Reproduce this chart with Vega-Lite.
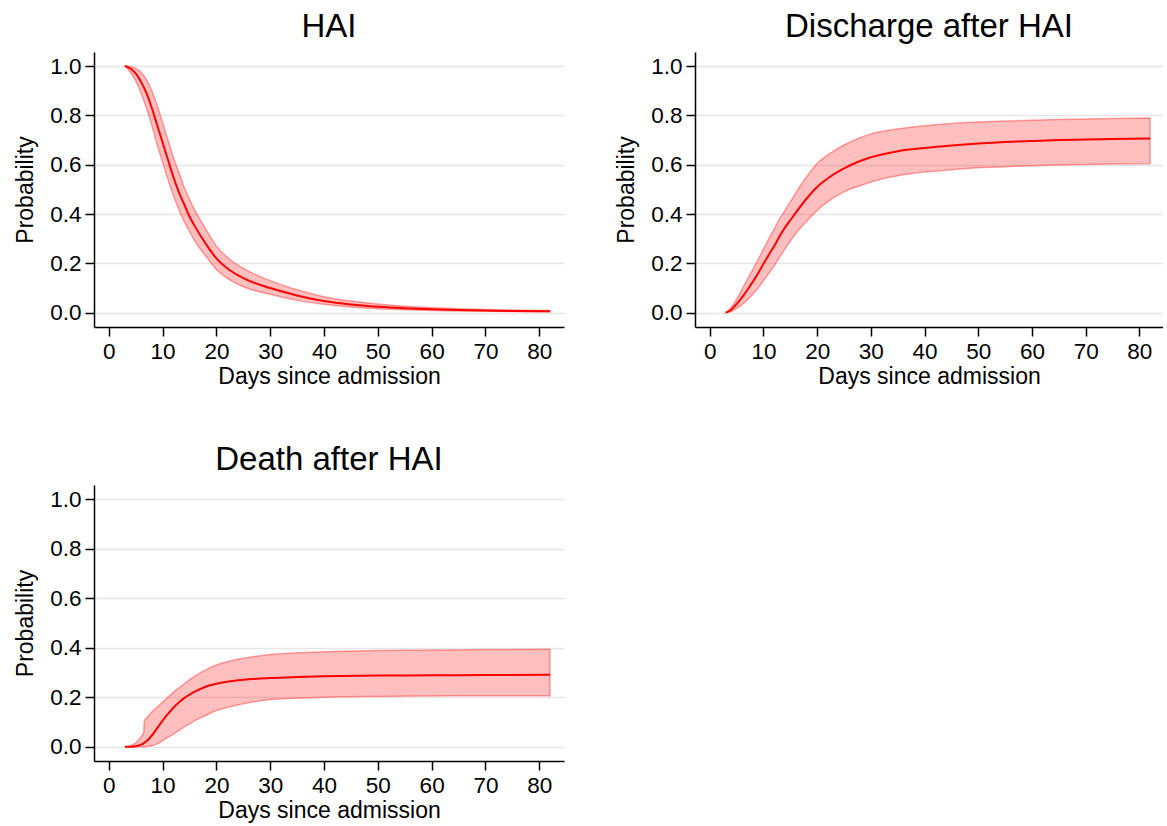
{
  "$schema": "https://vega.github.io/schema/vega-lite/v6.json",
  "background": "white",
  "padding": {"left": 14, "top": 11, "right": 0, "bottom": 0},
  "spacing": {"row": 55, "column": 51},
  "config": {
    "font": "Liberation Sans",
    "view": {"stroke": null},
    "title": {"fontSize": 33, "fontWeight": "normal", "color": "black", "anchor": "middle", "offset": 8},
    "axis": {
      "labelFontSize": 22.5,
      "titleFontSize": 23,
      "titleFontWeight": "normal",
      "labelColor": "black",
      "titleColor": "black",
      "domainColor": "black",
      "tickColor": "black",
      "domainWidth": 1.5,
      "tickWidth": 1.5,
      "tickSize": 9,
      "labelPadding": 4
    },
    "axisX": {"grid": false, "titlePadding": 3},
    "axisY": {"gridColor": "#e6e6e6", "gridWidth": 1.5, "titlePadding": 12}
  },
  "datasets": {
    "hai": [
      {"day": 3, "est": 1.0, "lo": 1.0, "hi": 1.0},
      {"day": 4, "est": 0.99, "lo": 0.975, "hi": 0.998},
      {"day": 5, "est": 0.97, "lo": 0.94, "hi": 0.99},
      {"day": 6, "est": 0.935, "lo": 0.89, "hi": 0.975},
      {"day": 7, "est": 0.89, "lo": 0.83, "hi": 0.945},
      {"day": 8, "est": 0.83, "lo": 0.76, "hi": 0.9},
      {"day": 9, "est": 0.76, "lo": 0.68, "hi": 0.84},
      {"day": 10, "est": 0.69, "lo": 0.61, "hi": 0.77},
      {"day": 11, "est": 0.62, "lo": 0.54, "hi": 0.7},
      {"day": 12, "est": 0.55, "lo": 0.475, "hi": 0.63},
      {"day": 13, "est": 0.49, "lo": 0.42, "hi": 0.57},
      {"day": 14, "est": 0.44, "lo": 0.37, "hi": 0.51},
      {"day": 15, "est": 0.39, "lo": 0.33, "hi": 0.46},
      {"day": 16, "est": 0.35, "lo": 0.29, "hi": 0.415},
      {"day": 18, "est": 0.28, "lo": 0.23, "hi": 0.34},
      {"day": 20, "est": 0.22, "lo": 0.175, "hi": 0.27},
      {"day": 22, "est": 0.18, "lo": 0.14, "hi": 0.225},
      {"day": 25, "est": 0.14, "lo": 0.105, "hi": 0.18},
      {"day": 30, "est": 0.1, "lo": 0.075, "hi": 0.13},
      {"day": 35, "est": 0.07, "lo": 0.05, "hi": 0.093},
      {"day": 40, "est": 0.047, "lo": 0.034, "hi": 0.065},
      {"day": 45, "est": 0.033, "lo": 0.023, "hi": 0.047},
      {"day": 50, "est": 0.024, "lo": 0.016, "hi": 0.035},
      {"day": 55, "est": 0.018, "lo": 0.012, "hi": 0.026},
      {"day": 60, "est": 0.014, "lo": 0.009, "hi": 0.02},
      {"day": 65, "est": 0.011, "lo": 0.007, "hi": 0.016},
      {"day": 70, "est": 0.009, "lo": 0.006, "hi": 0.013},
      {"day": 75, "est": 0.007, "lo": 0.005, "hi": 0.011},
      {"day": 82, "est": 0.006, "lo": 0.004, "hi": 0.009}
    ],
    "discharge": [
      {"day": 3, "est": 0.0, "lo": 0.0, "hi": 0.0},
      {"day": 4, "est": 0.012, "lo": 0.005, "hi": 0.022},
      {"day": 5, "est": 0.035, "lo": 0.018, "hi": 0.055},
      {"day": 6, "est": 0.062, "lo": 0.033, "hi": 0.095},
      {"day": 7, "est": 0.092, "lo": 0.052, "hi": 0.135},
      {"day": 8, "est": 0.125, "lo": 0.075, "hi": 0.175},
      {"day": 9, "est": 0.16, "lo": 0.1, "hi": 0.215},
      {"day": 10, "est": 0.198, "lo": 0.13, "hi": 0.258},
      {"day": 11, "est": 0.235, "lo": 0.16, "hi": 0.3},
      {"day": 12, "est": 0.27, "lo": 0.19, "hi": 0.34},
      {"day": 13, "est": 0.31, "lo": 0.225, "hi": 0.38},
      {"day": 14, "est": 0.345, "lo": 0.258, "hi": 0.415},
      {"day": 15, "est": 0.375, "lo": 0.29, "hi": 0.45},
      {"day": 16, "est": 0.405, "lo": 0.32, "hi": 0.485},
      {"day": 18, "est": 0.462, "lo": 0.37, "hi": 0.55},
      {"day": 20, "est": 0.51, "lo": 0.415, "hi": 0.605},
      {"day": 22, "est": 0.545, "lo": 0.45, "hi": 0.64},
      {"day": 25, "est": 0.585, "lo": 0.49, "hi": 0.68},
      {"day": 28, "est": 0.615, "lo": 0.515, "hi": 0.71},
      {"day": 30, "est": 0.63, "lo": 0.53, "hi": 0.725},
      {"day": 35, "est": 0.655, "lo": 0.555, "hi": 0.745},
      {"day": 40, "est": 0.668, "lo": 0.57, "hi": 0.758},
      {"day": 45, "est": 0.678, "lo": 0.58, "hi": 0.767},
      {"day": 50, "est": 0.686, "lo": 0.588, "hi": 0.773},
      {"day": 55, "est": 0.692, "lo": 0.592, "hi": 0.777},
      {"day": 60, "est": 0.696, "lo": 0.596, "hi": 0.78},
      {"day": 65, "est": 0.7, "lo": 0.599, "hi": 0.783},
      {"day": 70, "est": 0.702, "lo": 0.601, "hi": 0.785},
      {"day": 75, "est": 0.704, "lo": 0.603, "hi": 0.787},
      {"day": 82, "est": 0.706, "lo": 0.604, "hi": 0.789}
    ],
    "death": [
      {"day": 3, "est": 0.0, "lo": 0.0, "hi": 0.0},
      {"day": 4, "est": 0.0, "lo": 0.0, "hi": 0.003},
      {"day": 5, "est": 0.002, "lo": 0.0, "hi": 0.015},
      {"day": 6, "est": 0.008, "lo": 0.0, "hi": 0.04},
      {"day": 6.5, "est": 0.014, "lo": 0.0, "hi": 0.058},
      {"day": 6.6, "est": 0.016, "lo": 0.0, "hi": 0.105},
      {"day": 7, "est": 0.022, "lo": 0.001, "hi": 0.115},
      {"day": 8, "est": 0.045, "lo": 0.004, "hi": 0.14},
      {"day": 9, "est": 0.075, "lo": 0.011, "hi": 0.16},
      {"day": 10, "est": 0.105, "lo": 0.024, "hi": 0.18},
      {"day": 11, "est": 0.132, "lo": 0.038, "hi": 0.2},
      {"day": 12, "est": 0.157, "lo": 0.05, "hi": 0.22},
      {"day": 13, "est": 0.178, "lo": 0.065, "hi": 0.237},
      {"day": 14, "est": 0.196, "lo": 0.079, "hi": 0.254},
      {"day": 15, "est": 0.21, "lo": 0.092, "hi": 0.27},
      {"day": 16, "est": 0.222, "lo": 0.105, "hi": 0.285},
      {"day": 18, "est": 0.242, "lo": 0.126, "hi": 0.31},
      {"day": 20, "est": 0.254, "lo": 0.146, "hi": 0.33},
      {"day": 22, "est": 0.262, "lo": 0.158, "hi": 0.343},
      {"day": 25, "est": 0.27, "lo": 0.173, "hi": 0.357},
      {"day": 30, "est": 0.277, "lo": 0.19, "hi": 0.372},
      {"day": 35, "est": 0.281, "lo": 0.196, "hi": 0.379},
      {"day": 40, "est": 0.284, "lo": 0.2, "hi": 0.383},
      {"day": 50, "est": 0.287, "lo": 0.203, "hi": 0.388},
      {"day": 60, "est": 0.288, "lo": 0.205, "hi": 0.39},
      {"day": 70, "est": 0.289, "lo": 0.206, "hi": 0.392},
      {"day": 82, "est": 0.29, "lo": 0.206, "hi": 0.393}
    ]
  },
  "columns": 2,
  "concat": [
    {
      "title": "HAI",
      "width": 470,
      "height": 275,
      "data": {"name": "hai"},
      "layer": [
        {
          "mark": {"type": "area", "interpolate": "monotone", "fill": "red", "fillOpacity": 0.25, "stroke": "red", "strokeOpacity": 0.35, "strokeWidth": 1.5},
          "encoding": {
            "x": {"field": "day", "type": "quantitative", "scale": {"domain": [-2.75, 84.6], "nice": false, "zero": false}, "axis": {"values": [0, 10, 20, 30, 40, 50, 60, 70, 80], "title": "Days since admission"}},
            "y": {"field": "lo", "type": "quantitative", "scale": {"domain": [-0.058, 1.057], "nice": false, "zero": false}, "axis": {"values": [0, 0.2, 0.4, 0.6, 0.8, 1.0], "format": ".1f", "title": "Probability"}},
            "y2": {"field": "hi"}
          }
        },
        {
          "mark": {"type": "line", "interpolate": "monotone", "color": "red", "strokeWidth": 2},
          "encoding": {
            "x": {"field": "day", "type": "quantitative"},
            "y": {"field": "est", "type": "quantitative"}
          }
        }
      ]
    },
    {
      "title": "Discharge after HAI",
      "width": 468,
      "height": 275,
      "data": {"name": "discharge"},
      "layer": [
        {
          "mark": {"type": "area", "interpolate": "monotone", "fill": "red", "fillOpacity": 0.25, "stroke": "red", "strokeOpacity": 0.35, "strokeWidth": 1.5},
          "encoding": {
            "x": {"field": "day", "type": "quantitative", "scale": {"domain": [-2.75, 84.4], "nice": false, "zero": false}, "axis": {"values": [0, 10, 20, 30, 40, 50, 60, 70, 80], "title": "Days since admission"}},
            "y": {"field": "lo", "type": "quantitative", "scale": {"domain": [-0.058, 1.057], "nice": false, "zero": false}, "axis": {"values": [0, 0.2, 0.4, 0.6, 0.8, 1.0], "format": ".1f", "title": "Probability"}},
            "y2": {"field": "hi"}
          }
        },
        {
          "mark": {"type": "line", "interpolate": "monotone", "color": "red", "strokeWidth": 2},
          "encoding": {
            "x": {"field": "day", "type": "quantitative"},
            "y": {"field": "est", "type": "quantitative"}
          }
        }
      ]
    },
    {
      "title": "Death after HAI",
      "width": 470,
      "height": 276,
      "data": {"name": "death"},
      "layer": [
        {
          "mark": {"type": "area", "interpolate": "monotone", "fill": "red", "fillOpacity": 0.25, "stroke": "red", "strokeOpacity": 0.35, "strokeWidth": 1.5},
          "encoding": {
            "x": {"field": "day", "type": "quantitative", "scale": {"domain": [-2.75, 84.6], "nice": false, "zero": false}, "axis": {"values": [0, 10, 20, 30, 40, 50, 60, 70, 80], "title": "Days since admission"}},
            "y": {"field": "lo", "type": "quantitative", "scale": {"domain": [-0.058, 1.057], "nice": false, "zero": false}, "axis": {"values": [0, 0.2, 0.4, 0.6, 0.8, 1.0], "format": ".1f", "title": "Probability"}},
            "y2": {"field": "hi"}
          }
        },
        {
          "mark": {"type": "line", "interpolate": "monotone", "color": "red", "strokeWidth": 2},
          "encoding": {
            "x": {"field": "day", "type": "quantitative"},
            "y": {"field": "est", "type": "quantitative"}
          }
        }
      ]
    }
  ]
}
